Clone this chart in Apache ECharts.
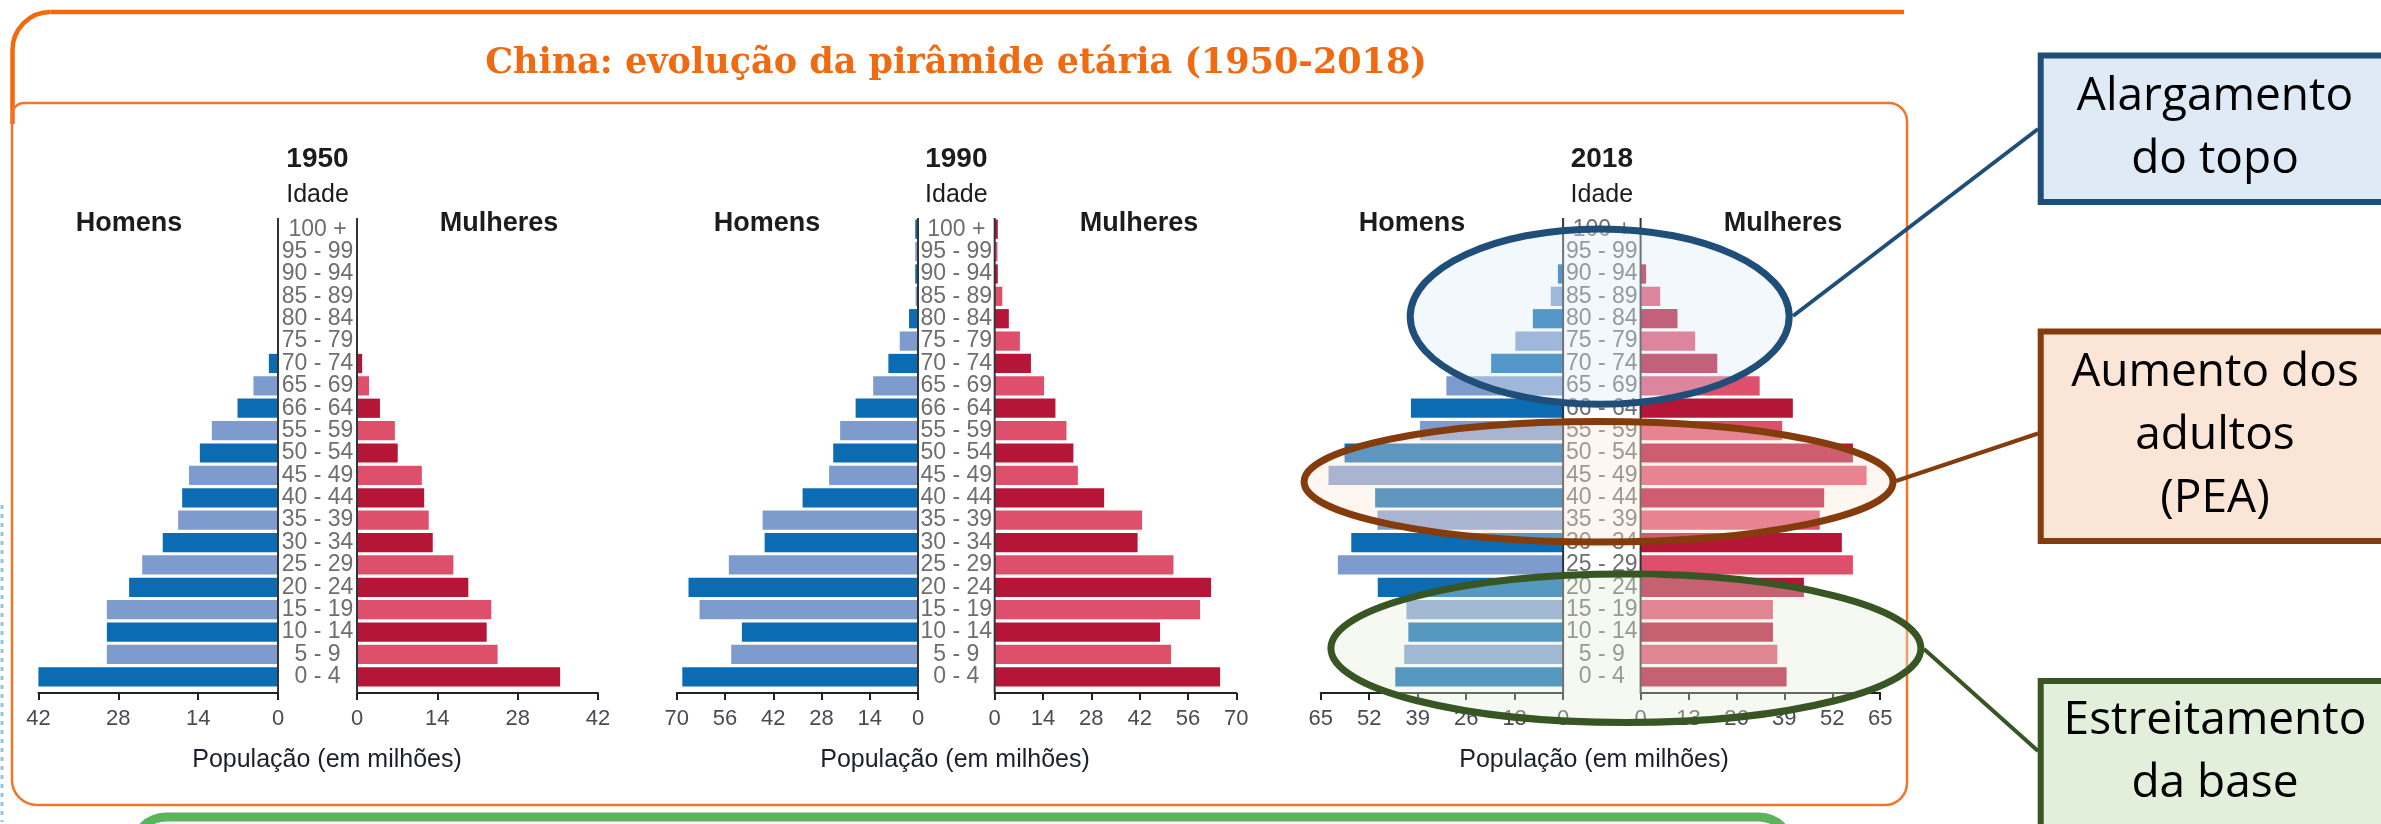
<!DOCTYPE html>
<html>
<head>
<meta charset="utf-8">
<script src="https://cdn.jsdelivr.net/npm/echarts@6/dist/echarts.min.js"></script>
<style>
html, body { margin: 0; padding: 0; background: #fff; }
#chart { width: 2381px; height: 824px; }
</style>
</head>
<body>
<div id="chart"></div>
<script>
// faixas etárias, de baixo para cima (o rótulo "66 - 64" está assim no original)
const ages = ['0 - 4', '5 - 9', '10 - 14', '15 - 19', '20 - 24', '25 - 29', '30 - 34', '35 - 39',
  '40 - 44', '45 - 49', '50 - 54', '55 - 59', '66 - 64', '65 - 69', '70 - 74', '75 - 79',
  '80 - 84', '85 - 89', '90 - 94', '95 - 99', '100 +']

// população em milhões
const men1950 = [42.1, 30.0, 30.0, 30.0, 26.1, 23.8, 20.2, 17.5, 16.8, 15.6, 13.7, 11.6, 7.1, 4.3, 1.6, 0, 0, 0, 0, 0, 0]
const women1950 = [35.4, 24.5, 22.6, 23.4, 19.4, 16.8, 13.2, 12.5, 11.7, 11.3, 7.1, 6.6, 4.0, 2.1, 0.9, 0, 0, 0, 0, 0, 0]
const men1990 = [68.4, 54.2, 51.1, 63.4, 66.6, 54.9, 44.5, 45.1, 33.5, 25.8, 24.6, 22.6, 18.1, 13.0, 8.6, 5.3, 2.6, 0.7, 0.8, 0.8, 0.8]
const women1990 = [65.3, 51.1, 47.9, 59.5, 62.7, 51.8, 41.4, 42.7, 31.7, 24.1, 22.8, 20.8, 17.6, 14.3, 10.5, 7.3, 4.1, 2.2, 0.9, 0.8, 0.9]
const men2018 = [45.0, 42.6, 41.5, 42.0, 49.7, 60.4, 56.8, 49.8, 50.4, 62.9, 58.6, 38.4, 40.8, 31.3, 19.3, 12.8, 8.1, 3.3, 1.4, 0, 0]
const women2018 = [39.6, 37.1, 35.9, 35.9, 44.3, 57.6, 54.6, 48.6, 49.8, 61.3, 57.6, 38.4, 41.3, 32.3, 20.8, 14.8, 10.0, 5.3, 1.5, 0, 0]

const years = ['1950', '1990', '2018']
const axisMax = [42, 70, 65]
const axisStep = [14, 14, 13]

const menData = [men1950, men1990, men2018]
const womenData = [women1950, women1990, women2018]

// posições de cada pirâmide (px)
const panels = [
  { mL: 38.4, mR: 278, wL: 357, wR: 598, nameX: 327 },
  { mL: 676.8, mR: 918, wL: 994.7, wR: 1236.3, nameX: 955 },
  { mL: 1320.7, mR: 1563.1, wL: 1640.6, wR: 1880.2, nameX: 1594 },
]
const homensX = [129, 767, 1412]
const mulheresX = [499, 1139, 1783]
const gridTop = 218
const gridH = 470

const FONT = '"Liberation Sans", Arial, sans-serif'
const BLUE = ['#0c6cb3', '#7d9bcc']
const RED = ['#b51638', '#de4f6c']

let chart = echarts.init(document.getElementById('chart'))

let grids = []
let xAxes = []
let yAxes = []
let series = []

panels.forEach((p, i) => {
  grids.push({ left: p.mL, width: p.mR - p.mL, top: gridTop, height: gridH, outerBoundsMode: 'none' })
  grids.push({ left: p.wL, width: p.wR - p.wL, top: gridTop, height: gridH, outerBoundsMode: 'none' })
  ;[true, false].forEach((isMen, k) => {
    let gi = i * 2 + k
    xAxes.push({
      gridIndex: gi,
      type: 'value',
      inverse: isMen,
      min: 0,
      max: axisMax[i],
      interval: axisStep[i],
      offset: 5,
      axisLine: { show: true, lineStyle: { color: '#222', width: 2 } },
      axisTick: { show: true, length: 7, lineStyle: { color: '#222', width: 2 } },
      axisLabel: { margin: 15, fontSize: 22, color: '#4a4a55', fontFamily: FONT },
      splitLine: { show: false },
    })
    yAxes.push({
      gridIndex: gi,
      type: 'category',
      data: ages,
      position: isMen ? 'right' : 'left',
      axisLine: { show: false },
      axisTick: { show: false },
      axisLabel: {
        show: isMen,
        interval: 0,
        align: 'center',
        margin: (p.wL - p.mR) / 2,
        fontSize: 23,
        color: '#6e6e6e',
        fontFamily: FONT,
      },
    })
    let cols = isMen ? BLUE : RED
    series.push({
      type: 'bar',
      xAxisIndex: gi,
      yAxisIndex: gi,
      barCategoryGap: '14%',
      silent: true,
      itemStyle: { color: d => cols[d.dataIndex % 2] },
      data: isMen ? menData[i] : womenData[i],
    })
  })
})

const txt = (text, x, y, size, opts = {}) => ({
  type: 'text',
  z: opts.z || 10,
  style: {
    text, x, y,
    fill: opts.color || '#1c1c1c',
    font: `${opts.weight || 'normal'} ${size}px ${opts.family || FONT}`,
    align: 'center', textAlign: 'center',
    verticalAlign: 'middle', textVerticalAlign: 'middle',
    lineHeight: opts.lineHeight || size * 1.2,
  },
})

const ORANGE = '#f26a0c'
let graphics = [
  // moldura laranja
  { type: 'line', z: 1, shape: { x1: 12.5, y1: 124, x2: 12.5, y2: 50 }, style: { stroke: ORANGE, lineWidth: 4.5 } },
  {
    type: 'arc', z: 1,
    shape: { cx: 50.5, cy: 50, r: 38, startAngle: Math.PI, endAngle: Math.PI * 1.5, clockwise: true },
    style: { fill: null, stroke: ORANGE, lineWidth: 4.5 },
  },
  { type: 'line', z: 1, shape: { x1: 50.5, y1: 12, x2: 1904, y2: 12 }, style: { stroke: ORANGE, lineWidth: 4.5 } },
  {
    type: 'rect', z: 1,
    shape: { x: 12, y: 103, width: 1895, height: 702, r: [12, 18, 22, 25] },
    style: { fill: null, stroke: '#ef772a', lineWidth: 2.5 },
  },
  {
    type: 'rect', z: 1,
    shape: { x: 134, y: 817, width: 1657, height: 120, r: 32 },
    style: { fill: '#fff', stroke: '#5cb45a', lineWidth: 9 },
  },
  // resto de texto vertical cortado na margem esquerda
  {
    type: 'line', z: 1,
    shape: { x1: 2, y1: 505, x2: 2, y2: 822 },
    style: { stroke: '#8ec5ee', lineWidth: 3, lineDash: [4, 5] },
  },
  txt('China: evolução da pirâmide etária (1950-2018)', 956, 64, 35,
    { color: '#ef6a10', weight: 'bold', family: '"DejaVu Serif", serif' }),
]

panels.forEach((p, i) => {
  let cx = (p.mR + p.wL) / 2
  graphics.push(txt(years[i], cx, 159, 28, { weight: 'bold' }))
  graphics.push(txt('Idade', cx, 195, 25))
  graphics.push(txt('Homens', homensX[i], 224, 27, { weight: 'bold' }))
  graphics.push(txt('Mulheres', mulheresX[i], 224, 27, { weight: 'bold' }))
  graphics.push(txt('População (em milhões)', p.nameX, 760, 25, { color: '#1e1e30' }))
  ;[p.mR, p.wL].forEach(x => graphics.push({
    type: 'line', z: 5,
    shape: { x1: x, y1: gridTop, x2: x, y2: gridTop + gridH + 5 },
    style: { stroke: '#333', lineWidth: 2 },
  }))
})

// elipses de destaque sobre 2018
const ellipses = [
  { cx: 1599.7, cy: 316.6, rx: 189.5, ry: 87.7, fill: 'rgba(222,235,247,0.35)', stroke: '#1f4e79' },
  { cx: 1598.6, cy: 481.7, rx: 294.5, ry: 60.3, fill: 'rgba(251,229,214,0.35)', stroke: '#843c0c' },
  { cx: 1625.9, cy: 648.3, rx: 295, ry: 74.2, fill: 'rgba(226,239,218,0.35)', stroke: '#375623' },
]
ellipses.forEach(e => graphics.push({
  type: 'ellipse', z: 100,
  shape: { cx: e.cx, cy: e.cy, rx: e.rx, ry: e.ry },
  style: { fill: e.fill, stroke: e.stroke, lineWidth: 7 },
}))

// caixas de comentário
const boxes = [
  { y: 55.5, h: 146.5, fill: '#deeaf6', stroke: '#1f4e79', text: 'Alargamento\ndo topo', from: [1793, 316], to: [2038, 129] },
  { y: 331.4, h: 209.5, fill: '#fbe5d6', stroke: '#843c0c', text: 'Aumento dos\nadultos\n(PEA)', from: [1896, 481], to: [2038, 433.5] },
  { y: 680.9, h: 300, fill: '#e2efda', stroke: '#375623', text: 'Estreitamento\nda base', from: [1924, 649], to: [2038, 751] },
]
boxes.forEach(b => {
  graphics.push({
    type: 'line', z: 100,
    shape: { x1: b.from[0], y1: b.from[1], x2: b.to[0], y2: b.to[1] },
    style: { stroke: b.stroke, lineWidth: 4 },
  })
  graphics.push({
    type: 'rect', z: 101,
    shape: { x: 2040.7, y: b.y, width: 400, height: b.h },
    style: { fill: b.fill, stroke: b.stroke, lineWidth: 6 },
  })
  let cy = b.text.split('\n').length === 3 ? b.y + b.h / 2 : Math.min(b.y + b.h / 2, 752)
  graphics.push(txt(b.text, 2215, cy, 46, { color: '#000', family: '"Open Sans", sans-serif', lineHeight: 63, z: 102 }))
})

let options = {
  animation: false,
  grid: grids,
  xAxis: xAxes,
  yAxis: yAxes,
  series: series,
  graphic: { elements: graphics },
}
chart.setOption(options)
</script>
</body>
</html>
